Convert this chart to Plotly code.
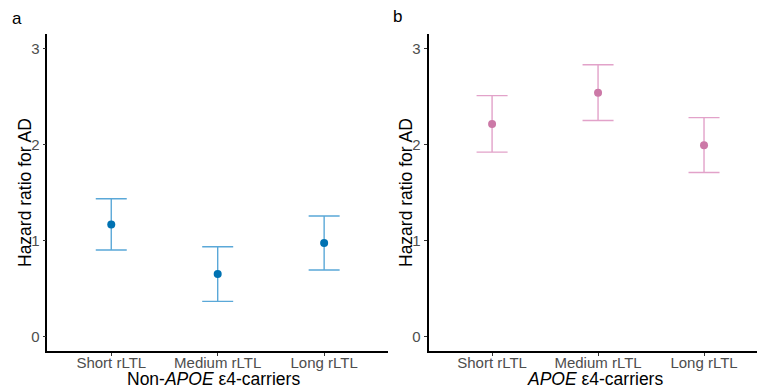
import plotly.graph_objects as go

categories = ["Short rLTL", "Medium rLTL", "Long rLTL"]
hr_non = [1.165, 0.649, 0.972]
lo_non = [0.899, 0.364, 0.691]
hi_non = [1.433, 0.933, 1.253]
hr_apoe = [2.213, 2.539, 1.992]
lo_apoe = [1.919, 2.248, 1.707]
hi_apoe = [2.508, 2.830, 2.279]
y_ticks = [0, 1, 2, 3]

W, H = 757, 388
fig = go.Figure()

xpos = [1, 2, 3]

def add_panel(hr, lo, hi, pt_color, bar_color, xa, ya):
    fig.add_trace(go.Scatter(
        x=xpos, y=hr, mode="markers",
        marker=dict(color=pt_color, size=8),
        error_y=dict(type="data", symmetric=False,
                     array=[h - m for h, m in zip(hi, hr)],
                     arrayminus=[m - l for m, l in zip(hr, lo)],
                     color=bar_color, thickness=1.4, width=15.5),
        xaxis=xa, yaxis=ya, showlegend=False))

add_panel(hr_non, lo_non, hi_non, "#0072B2", "#5AA8D8", "x", "y")
add_panel(hr_apoe, lo_apoe, hi_apoe, "#CC79A7", "#E2A2C9", "x2", "y2")

ydom = [1 - 350.7 / H, 1 - 34 / H]
tf = dict(family="Liberation Sans, Arial", size=15, color="#4D4D4D")
axis_common = dict(showline=True, linecolor="black", linewidth=1.6,
                   ticks="outside", ticklen=3, tickcolor="#333333", tickwidth=1,
                   showgrid=False, zeroline=False, tickfont=tf)

fig.update_layout(
    width=W, height=H, margin=dict(l=0, r=0, t=0, b=0),
    plot_bgcolor="white", paper_bgcolor="white",
    xaxis=dict(domain=[47.4 / W, 388 / W], range=[0.4, 3.6], ticklabelstandoff=-6,
               tickvals=xpos, ticktext=categories, anchor="y", **axis_common),
    yaxis=dict(domain=ydom, range=[-0.15, 3.15], tickvals=y_ticks, anchor="x", **axis_common),
    xaxis2=dict(domain=[428.5 / W, 1.0], range=[0.4, 3.5], ticklabelstandoff=-6,
                tickvals=xpos, ticktext=categories, anchor="y2", **axis_common),
    yaxis2=dict(domain=ydom, range=[-0.15, 3.15], tickvals=y_ticks, anchor="x2", **axis_common),
)

font_title = dict(family="Liberation Sans, Arial", size=17.5, color="black")
font_tag = dict(family="Liberation Sans, Arial", size=17, color="black")
annots = [
    dict(text="a", x=16.5 / W, y=1 - 18 / H, font=font_tag),
    dict(text="b", x=398 / W, y=1 - 17 / H, font=font_tag),
    dict(text="Hazard ratio for AD", x=25 / W, y=1 - 193 / H, textangle=-90, font=font_title),
    dict(text="Hazard ratio for AD", x=406 / W, y=1 - 193 / H, textangle=-90, font=font_title),
    dict(text="Non-<i>APOE</i> ε4-carriers", x=213.5 / W, y=1 - 379 / H, font=font_title),
    dict(text="<i>APOE</i> ε4-carriers", x=594.5 / W, y=1 - 379 / H, font=font_title),
]
for a in annots:
    fig.add_annotation(xref="paper", yref="paper", showarrow=False,
                       xanchor="center", yanchor="middle", **a)

fig.write_html("out.html", config={"displayModeBar": False},
               post_script="document.body.style.margin='0';document.body.style.overflow='hidden';")
